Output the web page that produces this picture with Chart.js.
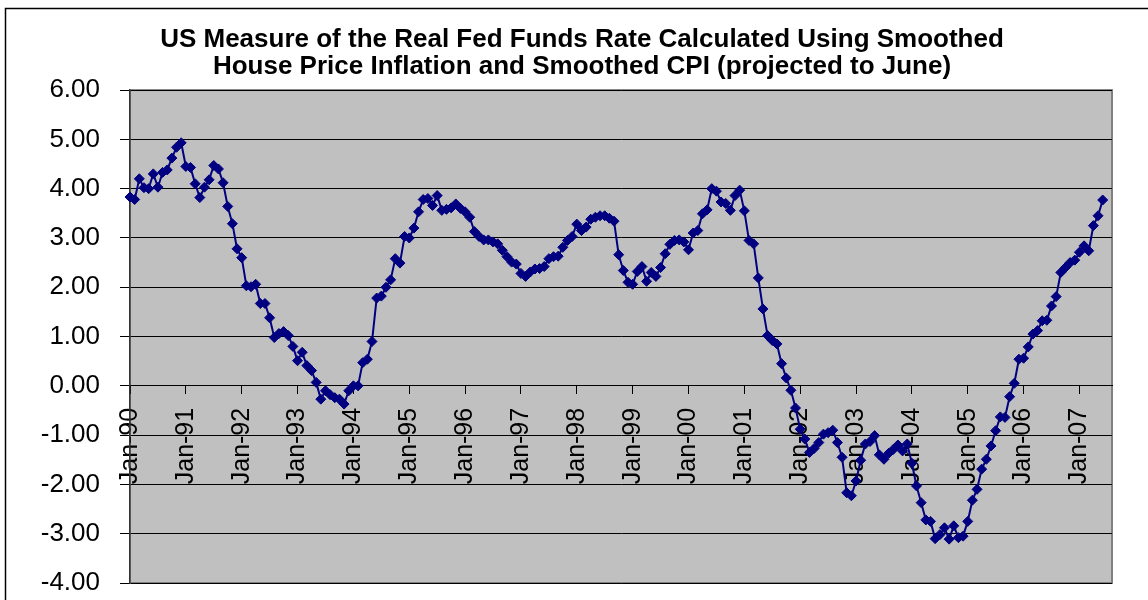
<!DOCTYPE html>
<html>
<head>
<meta charset="utf-8">
<title>US Real Fed Funds Rate</title>
<script src="https://cdn.jsdelivr.net/npm/chart.js@4.4.1/dist/chart.umd.min.js"></script>
<style>
    html, body { margin: 0; padding: 0; background: #fff; }
    #wrap { width: 1148px; height: 600px; position: relative; }
</style>
</head>
<body>
<div id="wrap"><canvas id="rateChart"></canvas></div>
<script>
// Datos: tasa real mensual, Jan-90 .. Jun-07
const years = ['90', '91', '92', '93', '94', '95', '96', '97', '98', '99', '00', '01', '02', '03', '04', '05', '06', '07'];
const monthNames = ['Jan', 'Feb', 'Mar', 'Apr', 'May', 'Jun', 'Jul', 'Aug', 'Sep', 'Oct', 'Nov', 'Dec'];

const realRate = [
    3.83, 3.78, 4.20, 4.02, 4.00, 4.30, 4.03, 4.33, 4.38, 4.62, 4.84, 4.93,        // 1990
    4.45, 4.43, 4.10, 3.82, 4.03, 4.18, 4.47, 4.40, 4.12, 3.64, 3.29, 2.78,        // 1991
    2.60, 2.03, 2.01, 2.06, 1.67, 1.67, 1.38, 0.98, 1.06, 1.10, 1.02, 0.80,        // 1992
    0.51, 0.68, 0.41, 0.31, 0.07, -0.27, -0.10, -0.18, -0.24, -0.27, -0.37, -0.10, // 1993
    0.00, 0.00, 0.47, 0.54, 0.90, 1.78, 1.82, 2.00, 2.15, 2.58, 2.49, 3.03,        // 1994
    3.00, 3.20, 3.53, 3.78, 3.80, 3.66, 3.86, 3.56, 3.58, 3.61, 3.69, 3.60,        // 1995
    3.53, 3.42, 3.13, 3.03, 2.96, 2.96, 2.92, 2.88, 2.75, 2.62, 2.51, 2.47,        // 1996
    2.28, 2.22, 2.31, 2.37, 2.38, 2.42, 2.58, 2.62, 2.63, 2.81, 2.95, 3.03,        // 1997
    3.28, 3.15, 3.22, 3.38, 3.42, 3.45, 3.45, 3.40, 3.34, 2.66, 2.34, 2.10,        // 1998
    2.06, 2.32, 2.42, 2.12, 2.30, 2.22, 2.40, 2.68, 2.87, 2.95, 2.96, 2.92,        // 1999
    2.76, 3.10, 3.15, 3.49, 3.57, 4.00, 3.95, 3.73, 3.70, 3.56, 3.86, 3.97,        // 2000
    3.55, 2.95, 2.88, 2.19, 1.56, 1.02, 0.92, 0.85, 0.45, 0.16, -0.09, -0.45,      // 2001
    -0.88, -1.08, -1.35, -1.27, -1.15, -0.98, -0.95, -0.90, -1.15, -1.45, -2.17, -2.23, // 2002
    -1.93, -1.51, -1.18, -1.13, -1.01, -1.40, -1.49, -1.37, -1.29, -1.20, -1.32, -1.18, // 2003
    -1.57, -2.03, -2.37, -2.72, -2.75, -3.10, -3.02, -2.88, -3.11, -2.84, -3.08, -3.05, // 2004
    -2.75, -2.32, -2.10, -1.69, -1.49, -1.22, -0.91, -0.63, -0.64, -0.22, 0.05, 0.54,   // 2005
    0.56, 0.79, 1.05, 1.12, 1.32, 1.33, 1.62, 1.81, 2.30, 2.40, 2.50, 2.55,        // 2006
    2.71, 2.84, 2.74, 3.25, 3.45, 3.77                                              // 2007 (a junio)
];

// Etiquetas de mes (Jan-90, Feb-90, ...)
const months = [];
years.forEach(y => monthNames.forEach(m => months.push(m + '-' + y)));

const titleLines = [
    'US Measure of the Real Fed Funds Rate Calculated Using Smoothed',
    'House Price Inflation and Smoothed CPI (projected to June)'
];

const FONT = "'Liberation Sans', Arial, sans-serif";

// Fondo, marco del gráfico y área gris
const framePlugin = {
    id: 'framePlugin',
    afterLayout(chart) {
        // centrar el título un poco más a la derecha, como en el original
        if (chart.titleBlock) chart.titleBlock.left = 52;
    },
    beforeDraw(chart) {
        const { ctx, chartArea: a } = chart;
        ctx.save();
        ctx.fillStyle = '#ffffff';
        ctx.fillRect(0, 0, chart.width, chart.height);
        ctx.strokeStyle = '#000000';
        ctx.lineWidth = 1.5;
        ctx.beginPath();
        ctx.moveTo(5.5, chart.height);
        ctx.lineTo(5.5, 8.5);
        ctx.lineTo(chart.width, 8.5);
        ctx.stroke();
        ctx.fillStyle = '#c0c0c0';
        ctx.fillRect(a.left, a.top, a.width, a.height);
        ctx.strokeStyle = '#808080';
        ctx.lineWidth = 2;
        ctx.strokeRect(a.left, a.top, a.width, a.height);
        ctx.restore();
    }
};

const rateChart = new Chart(document.getElementById('rateChart'), {
    type: 'line',
    data: {
        datasets: [{
            label: 'Real Fed Funds Rate',
            data: realRate.map((v, i) => ({ x: i, y: v })),
            borderColor: '#000080',
            borderWidth: 2,
            backgroundColor: '#000080',
            pointStyle: 'rectRot',
            pointRadius: 5,
            pointBackgroundColor: '#000080',
            pointBorderColor: '#000080',
            pointBorderWidth: 1,
            tension: 0,
            clip: false
        }]
    },
    options: {
        responsive: true,
        maintainAspectRatio: false,
        animation: false,
        layout: { padding: { left: 5, right: 36, top: 0, bottom: 17 } },
        plugins: {
            legend: { display: false },
            tooltip: { enabled: false },
            title: {
                display: true,
                text: titleLines,
                color: '#000',
                font: { family: FONT, size: 26, weight: 'bold', lineHeight: 1.04 },
                padding: { top: 26, bottom: 10 }
            }
        },
        scales: {
            x: {
                type: 'linear',
                position: { y: 0 },
                min: 0,
                max: 211,
                ticks: {
                    stepSize: 12,
                    autoSkip: false,
                    includeBounds: false,
                    minRotation: 90,
                    maxRotation: 90,
                    padding: 14,
                    color: '#000',
                    font: { family: FONT, size: 25 },
                    callback: (v) => months[v] || ''
                },
                grid: {
                    drawOnChartArea: false,
                    drawTicks: true,
                    tickLength: 8,
                    color: '#000'
                },
                border: { display: true, color: '#000', width: 1 }
            },
            y: {
                min: -4,
                max: 6,
                afterFit: (scale) => { scale.width = 125; },
                ticks: {
                    stepSize: 1,
                    padding: 3,
                    color: '#000',
                    font: { family: FONT, size: 26, lineHeight: 1.05 },
                    callback: (v) => v.toFixed(2)
                },
                grid: {
                    color: '#000',
                    lineWidth: 1,
                    tickLength: 27,
                    // solo los 10 px junto al eje
                    tickBorderDash: [0, 17, 10, 1000]
                },
                border: { display: true, color: '#333', width: 1.5 }
            }
        }
    },
    plugins: [framePlugin]
});
</script>
</body>
</html>
